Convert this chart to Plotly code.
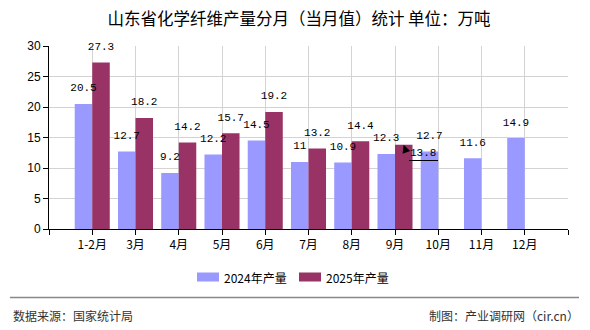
import plotly.graph_objects as go

months = ["1-2月", "3月", "4月", "5月", "6月", "7月", "8月", "9月", "10月", "11月", "12月"]
prod_2024 = [20.5, 12.7, 9.2, 12.2, 14.5, 11, 10.9, 12.3, 12.7, 11.6, 14.9]
prod_2025 = [27.3, 18.2, 14.2, 15.7, 19.2, 13.2, 14.4, 13.8, None, None, None]
series_names = ["2024年产量", "2025年产量"]
colors = ["#9999FF", "#993366"]
title_text = "山东省化学纤维产量分月（当月值）统计 单位：万吨"
source_text = "数据来源：国家统计局"
credit_text = "制图：产业调研网（cir.cn）"

W, H = 590, 330
ML, MR, MT, MB = 49, 22, 46, 101
PW, PH = W - ML - MR, H - MT - MB


def px_x(x):
    return (x - ML) / PW


def px_y(y):
    return (H - MB - y) / PH


CJK = "Noto Sans CJK SC"
xs = list(range(len(months)))
BARGAP = 0.19


def fmt(v):
    return "" if v is None else f"{v:g}"


label_font = dict(family="Liberation Mono", size=11, color="#000000")
idx_sep = months.index("9月")

fig = go.Figure()
for i, (vals, nm, c) in enumerate(zip([prod_2024, prod_2025], series_names, colors)):
    fig.add_trace(go.Bar(
        x=xs, y=vals, name=nm, marker_color=c, marker_line_width=0,
        offsetgroup=str(i), hoverinfo="skip",
    ))
for i, (vals, nm) in enumerate(zip([prod_2024, prod_2025], series_names)):
    texts = [fmt(v) for v in vals]
    if i == 1:
        texts[idx_sep] = ""  # shown displaced with a leader line
    fig.add_trace(go.Scatter(
        x=xs, y=vals, mode="markers+text", text=texts,
        textposition="top center", textfont=label_font,
        marker=dict(size=14, opacity=0), offsetgroup=str(i),
        cliponaxis=False, showlegend=False, hoverinfo="skip",
    ))

# displaced label for 9月 2025 with leader
fig.add_annotation(
    x=idx_sep + 0.2, y=prod_2025[idx_sep], xref="x", yref="y",
    text=" ", showarrow=True, arrowhead=2, arrowsize=1.6, arrowwidth=1,
    arrowcolor="#000", ax=5, ay=14, standoff=0,
)
fig.add_shape(type="line", xref="paper", yref="paper",
              x0=px_x(409), x1=px_x(438), y0=px_y(160.5), y1=px_y(160.5),
              line=dict(color="#000", width=1))
fig.add_annotation(
    xref="paper", yref="paper", x=px_x(422.5), y=px_y(153),
    text=fmt(prod_2025[idx_sep]), font=label_font, showarrow=False,
    xanchor="center", yanchor="middle",
)

# manual legend
leg_y = px_y(277)
for i, (nm, c) in enumerate(zip(series_names, colors)):
    x0 = 197 + i * 102
    fig.add_shape(type="rect", xref="paper", yref="paper",
                  x0=px_x(x0), x1=px_x(x0 + 22), y0=px_y(281.5), y1=px_y(272.5),
                  fillcolor=c, line_width=0)
    fig.add_annotation(xref="paper", yref="paper", x=px_x(x0 + 25), y=leg_y,
                       text=nm, showarrow=False, xanchor="left", yanchor="middle",
                       font=dict(family=CJK, size=12, color="#000"))

# separator and footer
fig.add_shape(type="line", xref="paper", yref="paper",
              x0=px_x(10), x1=px_x(579), y0=px_y(297.5), y1=px_y(297.5),
              line=dict(color="#888888", width=1.5))
fig.add_annotation(xref="paper", yref="paper", x=px_x(11), y=px_y(315),
                   text=source_text, showarrow=False, xanchor="left", yanchor="middle",
                   font=dict(family=CJK, size=12, color="#333"))
fig.add_annotation(xref="paper", yref="paper", x=px_x(581), y=px_y(315),
                   text=credit_text, showarrow=False, xanchor="right", yanchor="middle",
                   font=dict(family=CJK, size=12, color="#333"))

fig.update_layout(
    width=W, height=H,
    margin=dict(l=ML, r=MR, t=MT, b=MB, pad=0),
    paper_bgcolor="white", plot_bgcolor="white",
    barmode="group", bargap=BARGAP, bargroupgap=0,
    scattermode="group", scattergap=BARGAP,
    showlegend=False,
    title=dict(text=title_text, x=299 / W, y=1 - 19 / H, xref="container", yref="container",
               xanchor="center", yanchor="middle",
               font=dict(family=CJK, size=16.5, color="#000")),
    xaxis=dict(
        range=[-1, len(months)],
        tickmode="array", tickvals=list(range(-1, len(months) + 1)),
        ticktext=[""] + months + [""],
        showgrid=True, gridcolor="#d3d3d3", gridwidth=1,
        showline=True, linecolor="#000", linewidth=1,
        ticks="outside", ticklen=5, tickcolor="#000",
        zeroline=False,
        tickfont=dict(family=CJK, size=12, color="#000"),
    ),
    yaxis=dict(
        range=[0, 30], dtick=5, tick0=0,
        showgrid=True, gridcolor="#d3d3d3", gridwidth=1,
        showline=True, linecolor="#000", linewidth=1,
        ticks="outside", ticklen=5, tickcolor="#000",
        zeroline=False,
        tickfont=dict(family="Liberation Sans", size=12, color="#000"),
    ),
)

fig.write_html("out.html")
